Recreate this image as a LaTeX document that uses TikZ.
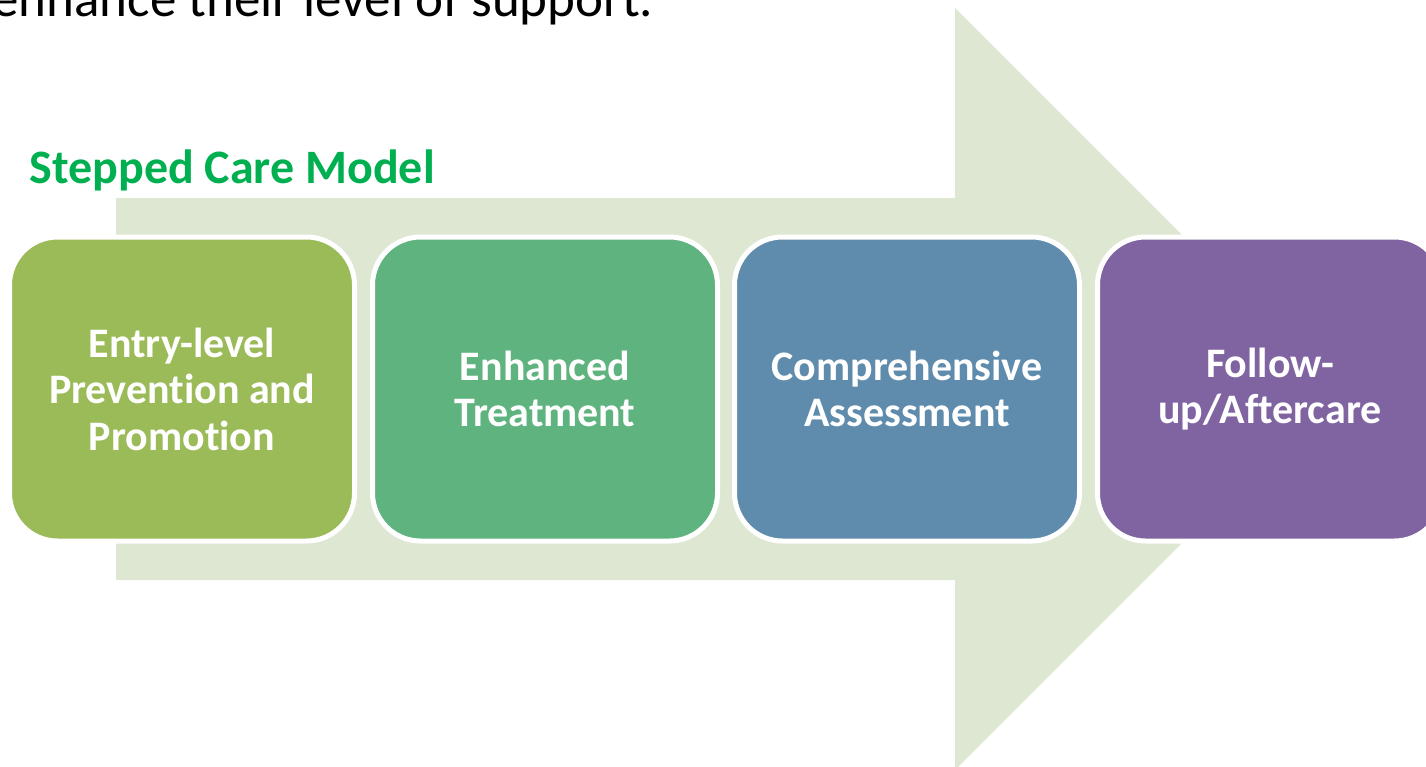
\documentclass[tikz,border=0pt]{standalone}
\usepackage{fontspec}
\setmainfont{Carlito}[Ligatures={NoCommon,NoContextual}]
\newcommand{\tI}{t\kern0pt i}
\definecolor{arrowc}{RGB}{222,231,210}
\definecolor{cA}{RGB}{155,187,89}
\definecolor{cB}{RGB}{94,179,126}
\definecolor{cC}{RGB}{95,140,172}
\definecolor{cD}{RGB}{128,100,162}
\definecolor{titlegreen}{RGB}{0,176,80}
\begin{document}
\begin{tikzpicture}[x=1pt,y=-1pt,
  stepbox/.style={draw=white, line width=5pt, rounded corners=48pt,
    minimum width=345pt, minimum height=304pt, inner sep=0pt,
    text=white, align=center,
    font=\fontsize{42}{46.5}\selectfont\bfseries}]
\useasboundingbox (0,0) rectangle (1426,766);
\fill[arrowc] (116,198) -- (955,198) -- (955,8) -- (1336,389) -- (955,770) -- (955,580) -- (116,580) -- cycle;
\node[anchor=base west, font=\fontsize{53}{60}\selectfont] (top) at (-11,16) {enhance their level of support.};
\node[anchor=base west, text=titlegreen, font=\fontsize{48}{56}\selectfont\bfseries] (title) at (26,183) {Stepped Care Model};
\node[stepbox, fill=cA] (b1) at (182,389) {Entry-level\\Preven\tI on and\\Promo\tI on};
\node[stepbox, fill=cB] (b2) at (545,389) {Enhanced\\Treatment};
\node[stepbox, fill=cC] (b3) at (907,389) {Comprehensive\\Assessment};
\node[stepbox, fill=cD] (b4) at (1270,389) {Follow-\\up/Aftercare};
\end{tikzpicture}
\end{document}
